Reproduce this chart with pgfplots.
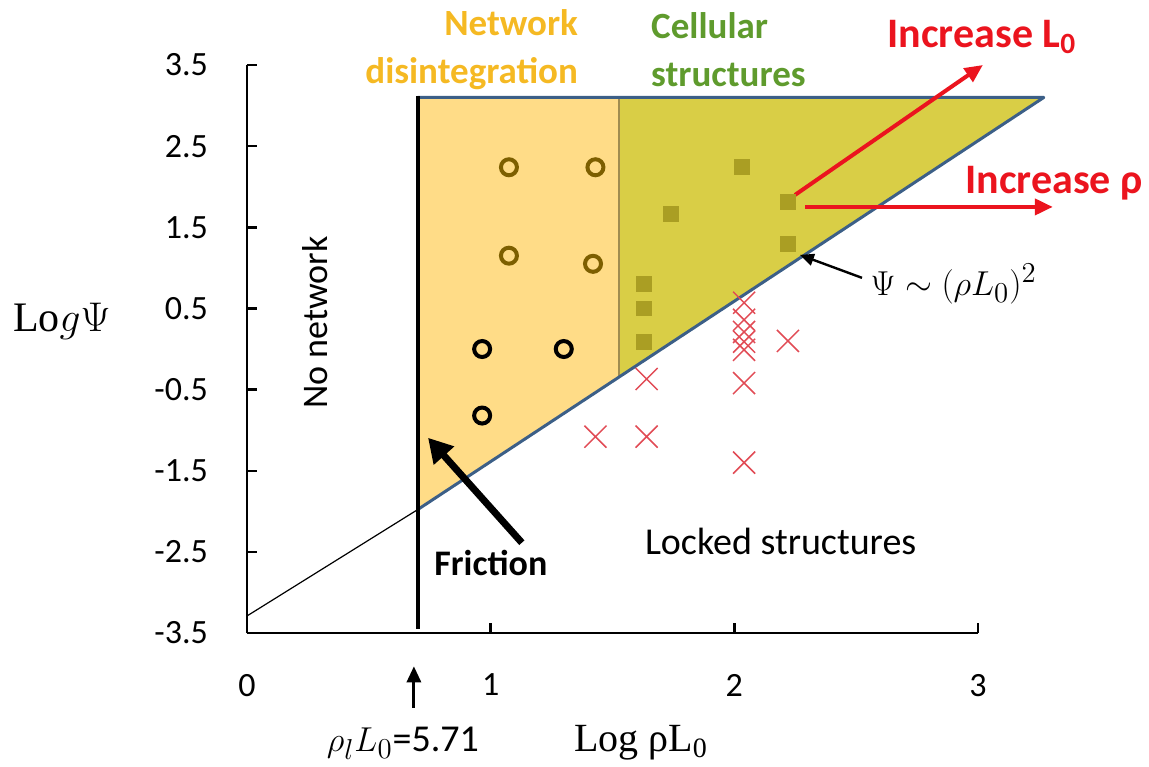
\documentclass[border=0pt]{standalone}
\usepackage{fontspec}
\setmainfont{Carlito}
\newfontfamily\serif{Liberation Serif}
\usepackage{pgfplots}
\pgfplotsset{compat=1.18}
\usetikzlibrary{arrows.meta}

\definecolor{orangefill}{RGB}{255,220,135}
\definecolor{olivefill}{RGB}{217,206,70}
\definecolor{edgeblue}{RGB}{60,95,135}
\definecolor{divcol}{RGB}{160,140,80}
\definecolor{circbrown}{RGB}{125,95,0}
\definecolor{sqcol}{RGB}{170,158,35}
\definecolor{xcol}{RGB}{225,75,85}
\definecolor{arrowred}{RGB}{235,20,30}
\definecolor{txtorange}{RGB}{245,185,35}
\definecolor{txtgreen}{RGB}{95,155,45}

\begin{document}
\begin{tikzpicture}
\begin{axis}[
    at={(0,0)}, anchor=south west,
    scale only axis, width=365.5pt, height=284pt,
    xmin=0, xmax=3, ymin=-3.5, ymax=3.5,
    axis x line=bottom, axis y line=left,
    axis line style={-, line width=1.2pt},
    xtick={0,1,2,3}, ytick={-3.5,-2.5,...,3.5},
    tick align=inside, major tick length=5pt,
    tick style={line width=1.2pt, black},
    xticklabel style={yshift=-17pt},
    yticklabel style={xshift=-16pt},
    tick label style={font=\fontsize{17}{20}\selectfont},
    /pgf/number format/assume math mode=true,
    /pgf/number format/fixed, /pgf/number format/precision=1,
    clip=false,
]
% regions
\addplot[draw=none, fill=orangefill] coordinates {(0.70,3.1) (1.527,3.1) (1.527,-0.345) (0.70,-1.98)} -- cycle;
\addplot[draw=none, fill=olivefill] coordinates {(1.527,3.1) (3.27,3.1) (1.527,-0.345)} -- cycle;
\addplot[divcol, line width=1pt] coordinates {(1.527,3.1) (1.527,-0.345)};
\addplot[edgeblue, line width=1.5pt, line join=round] coordinates {(0.70,3.1) (3.27,3.1) (0.70,-1.98)};
\addplot[black, line width=0.6pt] coordinates {(0,-3.29) (0.70,-1.98)};
\addplot[black, line width=2pt] coordinates {(0.70,-3.45) (0.70,3.12)};

% network disintegration (open circles)
\addplot[only marks, mark=o, mark size=4pt, circbrown, line width=2pt] coordinates {
  (1.075,2.24) (1.43,2.24) (1.075,1.15) (1.42,1.05)};
\addplot[only marks, mark=o, mark size=4pt, black, line width=2pt] coordinates {
  (0.965,0.0) (1.30,0.0) (0.965,-0.82)};
% cellular structures (squares)
\addplot[only marks, mark=square*, mark size=3.7pt, sqcol] coordinates {
  (2.03,2.24) (2.22,1.81) (1.74,1.67) (2.22,1.30) (1.63,0.80) (1.63,0.50) (1.63,0.09)};
% locked structures (crosses)
\addplot[only marks, mark=x, mark size=7.8pt, xcol, line width=0.75pt] coordinates {
  (1.64,-0.37) (1.43,-1.08) (1.64,-1.08) (2.04,-0.42) (2.04,-1.40) (2.22,0.10)
  (2.04,0.57) (2.04,0.36) (2.04,0.21) (2.04,0.09) (2.04,-0.01)};

% annotations
\node[anchor=east, align=right, text=txtorange, font=\fontsize{18.5}{24}\selectfont\bfseries] at (1.387,3.685) {Network\\disintegration};
\node[anchor=west, align=left, text=txtgreen, font=\fontsize{18.5}{24}\selectfont\bfseries] at (1.63,3.685) {Cellular\\structures};
\node[anchor=west, text=arrowred, font=\fontsize{21}{24}\selectfont\bfseries] at (2.60,3.845) {Increase L\textsubscript{0}};
\node[anchor=west, text=arrowred, font=\fontsize{21}{24}\selectfont\bfseries] at (2.92,2.047) {Increase ρ};
\draw[arrowred, line width=2pt, -{Triangle[length=9pt,width=8pt]}] (2.249,1.899) -- (3.02,3.5);
\draw[arrowred, line width=2pt, -{Triangle[length=9pt,width=8pt]}] (2.29,1.751) -- (3.307,1.751);
\node[anchor=west, font=\fontsize{19}{22}\selectfont] at (2.53,0.80) {$\Psi\sim(\rho L_0)^2$};
\draw[black, line width=1.2pt, -{Triangle[length=7pt,width=6pt]}] (2.524,0.877) -- (2.269,1.16);
\node[rotate=90, font=\fontsize{18}{20}\selectfont] at (0.279,0.323) {No network};
\node[anchor=west, font=\fontsize{18}{20}\selectfont\bfseries] at (0.74,-2.633) {Friction};
\draw[black, line width=1.5pt, -{Triangle[length=8pt,width=7pt]}] (0.685,-4.42) -- (0.685,-3.91);
\draw[black, line width=3.5pt, -{Triangle[length=12pt,width=13pt]}] (1.128,-2.387) -- (0.743,-1.094);
\node[font=\fontsize{19}{22}\selectfont] at (0.64,-4.86) {$\rho_l L_0$=5.71};
\node[font=\fontsize{20}{22}\selectfont\serif] at (1.617,-4.85) {Log ρL\textsubscript{0}};
\node[font=\fontsize{21}{22}\selectfont\serif] at (-0.76,0.335) {Lo$g\Psi$};
\node[font=\fontsize{19}{22}\selectfont] at (2.19,-2.374) {Locked structures};
\end{axis}
\pgfresetboundingbox
\path[use as bounding box] (-123.5pt,-66.5pt) rectangle (451pt,316.5pt);
\end{tikzpicture}
\end{document}
